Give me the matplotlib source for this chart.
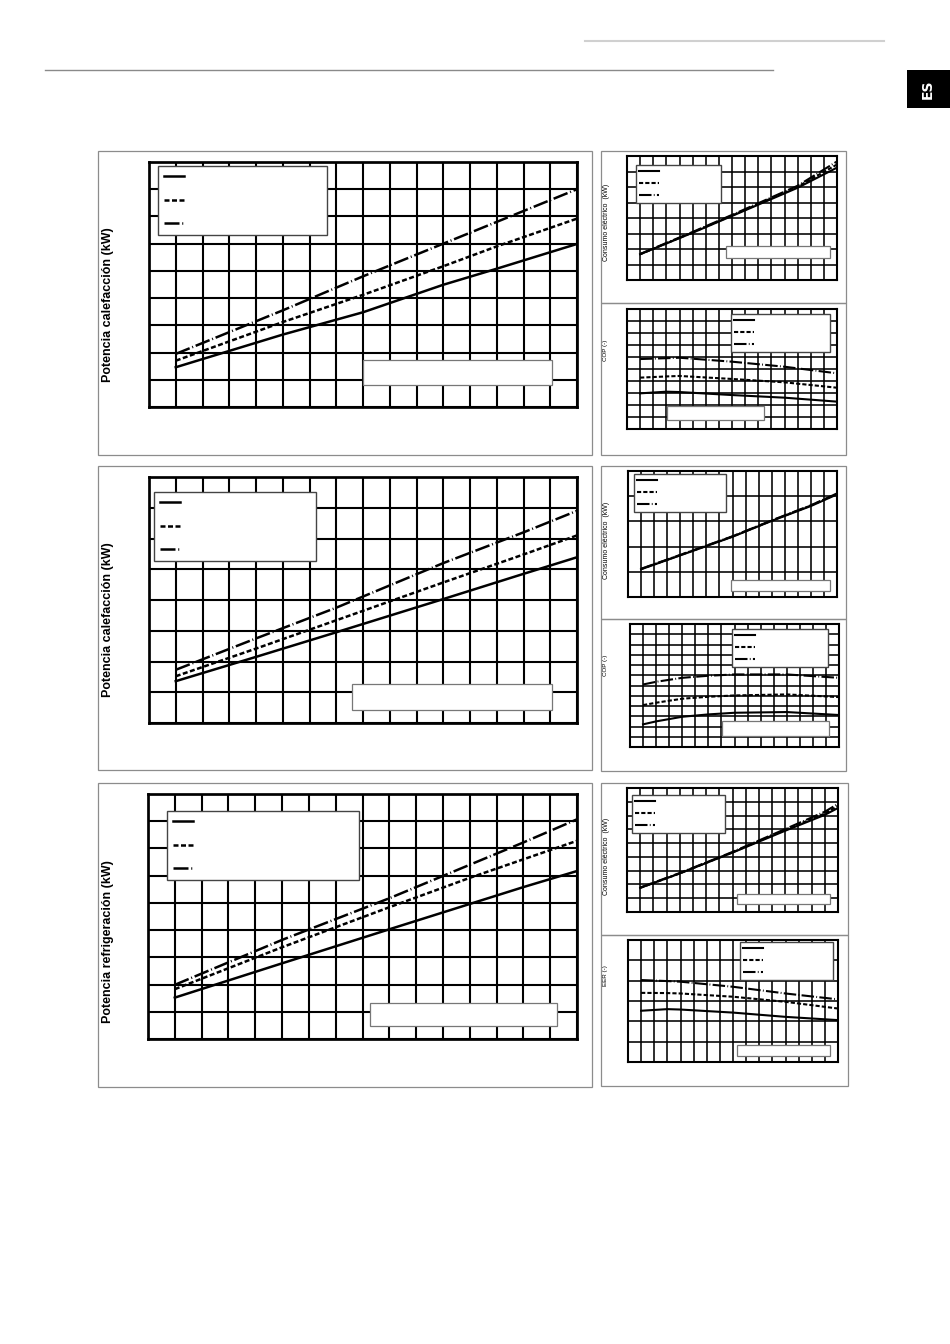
import matplotlib
matplotlib.use('Agg')
import matplotlib.pyplot as plt
from matplotlib.patches import Rectangle
from matplotlib.lines import Line2D

# --- datos leidos de la hoja (columnas de la rejilla 0..16) ---
# potencia calefaccion, bloque 1
x_cal1 = [1, 5, 8, 11, 13, 16]
cal1_a = [1.46, 2.66, 3.48, 4.49, 5.08, 5.99]
cal1_b = [1.70, 3.12, 4.12, 5.17, 5.90, 6.92]
cal1_c = [1.95, 3.55, 4.80, 6.00, 6.80, 8.00]

# consumo / COP, bloque 1
x_con1 = [1, 5, 8, 13, 16]
con1_a = [1.66, 3.05, 4.13, 5.95, 7.25]
con1_b = [1.66, 3.07, 4.16, 6.02, 7.45]
con1_c = [1.68, 3.10, 4.20, 6.08, 7.65]
x_cop1 = [1, 3, 4, 8, 12, 16]
cop1_a = [2.97, 3.11, 3.08, 2.83, 2.61, 2.28]
cop1_b = [4.28, 4.38, 4.42, 4.17, 3.89, 3.44]
cop1_c = [5.83, 5.90, 5.94, 5.61, 5.19, 4.64]

# potencia calefaccion, bloque 2
x_cal2 = [1, 4, 7, 11, 14, 16]
cal2_a = [1.36, 2.15, 2.95, 4.03, 4.85, 5.39]
cal2_b = [1.52, 2.42, 3.34, 4.57, 5.48, 6.10]
cal2_c = [1.73, 2.75, 3.75, 5.20, 6.20, 6.90]

# consumo / COP, bloque 2
x_con2 = [1, 6, 8, 11, 14, 16]
con2_a = [1.10, 2.02, 2.39, 3.02, 3.61, 4.07]
con2_b = [1.11, 2.03, 2.40, 3.03, 3.63, 4.09]
con2_c = [1.12, 2.04, 2.41, 3.04, 3.64, 4.11]
x_cop2 = [1, 2, 4, 6, 8, 12, 16]
cop2_a = [2.21, 2.50, 2.95, 3.18, 3.34, 3.41, 3.12]
cop2_b = [4.09, 4.32, 4.71, 4.90, 5.03, 5.13, 4.87]
cop2_c = [6.10, 6.36, 6.75, 6.95, 7.08, 7.08, 6.75]

# potencia refrigeracion
x_ref = [1, 5, 9, 12, 14, 16]
ref_a = [1.52, 2.78, 4.03, 4.96, 5.58, 6.17]
ref_b = [1.83, 3.37, 4.84, 5.92, 6.60, 7.28]
ref_c = [1.99, 3.64, 5.17, 6.40, 7.22, 8.07]

# consumo / EER, refrigeracion
x_con3 = [1, 4, 8, 12, 15, 16]
con3_a = [1.75, 2.80, 4.31, 5.90, 7.05, 7.55]
con3_b = [1.75, 2.80, 4.33, 5.96, 7.15, 7.70]
con3_c = [1.78, 2.83, 4.36, 6.02, 7.28, 7.85]
x_eer = [1, 3, 4, 8, 12, 16]
eer_a = [2.52, 2.60, 2.58, 2.43, 2.22, 2.06]
eer_b = [3.40, 3.39, 3.37, 3.21, 2.96, 2.63]
eer_c = [4.03, 3.98, 3.95, 3.70, 3.37, 3.08]

styles = ['-', (0, (2, 1)), (0, (6, 1.1, 0.4, 1.1))]

W, H = 950, 1344
plt.rcParams['font.family'] = ['Liberation Sans', 'DejaVu Sans']
fig = plt.figure(figsize=(9.5, 13.44), dpi=100)


def fbox(x0, y0, x1, y1):
    return [x0 / W, 1 - y1 / H, (x1 - x0) / W, (y1 - y0) / H]


def frame(x0, y0, x1, y1, **kw):
    r = fbox(x0, y0, x1, y1)
    p = Rectangle((r[0], r[1]), r[2], r[3], transform=fig.transFigure, **kw)
    fig.add_artist(p)


def chart(box, nrows, x, series, leg, white, small=False):
    ax = fig.add_axes(fbox(*box))
    ax.set_xlim(0, 16)
    ax.set_ylim(0, nrows)
    ax.set_xticks(range(17))
    ax.set_yticks(range(nrows + 1))
    ax.tick_params(length=0, labelbottom=False, labelleft=False)
    glw = 1.15 if small else 1.5
    ax.grid(True, color='black', lw=glw)
    ax.set_axisbelow(True)
    for sp in ax.spines.values():
        sp.set_linewidth(glw * 1.3)
    lw = 1.5 if small else 1.8
    hs = []
    for ys, ls in zip(series, styles):
        h, = ax.plot(x, ys, color='black', lw=lw, linestyle=ls)
        hs.append(h)
    # leyenda (textos vacios en el original)
    bx0, by0, bx1, by1 = box
    lx0, ly0, lx1, ly1 = leg
    bb = ((lx0 - bx0) / (bx1 - bx0), (by1 - ly1) / (by1 - by0),
          (lx1 - lx0) / (bx1 - bx0), (ly1 - ly0) / (by1 - by0))
    if small:
        lg = ax.legend(hs, [' '] * 3, loc='upper left', bbox_to_anchor=bb, mode='expand',
                       borderaxespad=0, fontsize=5, labelspacing=0.75, borderpad=0.45,
                       handlelength=2.8, fancybox=False, framealpha=1, edgecolor='#444444')
    else:
        lg = ax.legend(hs, [' '] * 3, loc='upper left', bbox_to_anchor=bb, mode='expand',
                       borderaxespad=0, fontsize=8, labelspacing=1.2, borderpad=0.55,
                       handlelength=1.8, fancybox=False, framealpha=1, edgecolor='#444444')
    lg.get_frame().set_linewidth(1.0)
    frame(*white, facecolor='white', edgecolor='#777777', lw=0.9, zorder=5)
    return ax


# cabecera
fig.add_artist(Line2D([585 / W, 884 / W], [1 - 41 / H] * 2, color='#d0d0d0', lw=1.5))
fig.add_artist(Line2D([45 / W, 773 / W], [1 - 70 / H] * 2, color='#8a8a8a', lw=1.0))
frame(907, 70, 950, 108, facecolor='black', edgecolor='none')
fig.text(928 / W, 1 - 89 / H, 'ES', rotation=90, ha='center', va='center',
         color='white', fontsize=10, weight='bold', family=['DejaVu Sans'])

# marcos
for fb in [(98, 151, 592, 455), (98, 466, 592, 770), (98, 783, 592, 1087),
           (601, 151, 846, 303), (601, 303, 846, 455),
           (601, 466, 846, 619), (601, 619, 846, 771),
           (601, 783, 848, 935), (601, 935, 848, 1086)]:
    frame(*fb, facecolor='none', edgecolor='#8c8c8c', lw=0.9)

# graficos grandes
chart((149, 162, 577, 407), 9, x_cal1, [cal1_a, cal1_b, cal1_c],
      (158, 166, 327, 242), (363, 360, 552, 385))
chart((149, 477, 577, 723), 8, x_cal2, [cal2_a, cal2_b, cal2_c],
      (154, 492, 316, 554), (352, 684, 552, 710))
chart((148, 794, 577, 1039), 9, x_ref, [ref_a, ref_b, ref_c],
      (167, 811, 359, 873), (370, 1003, 557, 1026))

# graficos pequenos
chart((627, 156, 837, 280), 8, x_con1, [con1_a, con1_b, con1_c],
      (636, 165, 721, 208), (726, 246, 830, 258), small=True)
chart((627, 309, 837, 429), 10, x_cop1, [cop1_a, cop1_b, cop1_c],
      (731, 314, 830, 351), (667, 406, 764, 420), small=True)
chart((628, 471, 837, 597), 5, x_con2, [con2_a, con2_b, con2_c],
      (634, 474, 726, 515), (731, 580, 830, 591), small=True)
chart((630, 624, 839, 747), 12, x_cop2, [cop2_a, cop2_b, cop2_c],
      (732, 629, 828, 660), (722, 721, 829, 736), small=True)
chart((627, 788, 838, 912), 9, x_con3, [con3_a, con3_b, con3_c],
      (632, 795, 725, 828), (737, 894, 830, 904), small=True)
chart((628, 940, 838, 1062), 6, x_eer, [eer_a, eer_b, eer_c],
      (740, 942, 833, 973), (737, 1045, 830, 1056), small=True)

# etiquetas de eje
for ytxt, txt in [(305, 'Potencia calefacción (kW)'), (620, 'Potencia calefacción (kW)'),
                  (942, 'Potencia refrigeración (kW)')]:
    fig.text(108 / W, 1 - ytxt / H, txt, rotation=90, ha='center', va='center',
             fontsize=9, weight='bold')
for ytxt, txt in [(222, 'Consumo eléctrico  (kW)'), (350, 'COP (-)'),
                  (540, 'Consumo eléctrico  (kW)'), (665, 'COP (-)'),
                  (856, 'Consumo eléctrico  (kW)'), (976, 'EER (-)')]:
    fig.text(606 / W, 1 - ytxt / H, txt, rotation=90, ha='center', va='center',
             fontsize=5 if txt.startswith('Cons') else 4.5)

fig.savefig('out.png', dpi=100)
